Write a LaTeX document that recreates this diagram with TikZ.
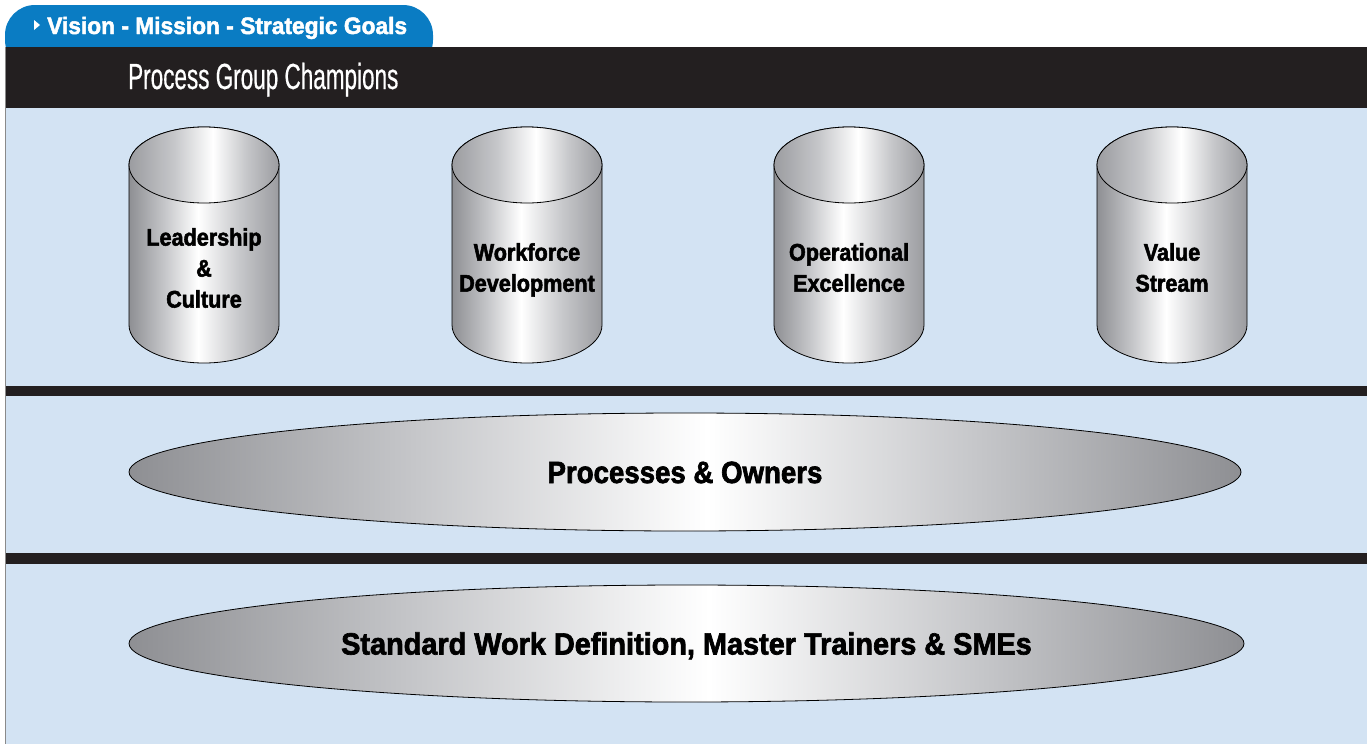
\documentclass[tikz,border=0pt]{standalone}
\usepackage{fontspec}
\usetikzlibrary{shapes.geometric}
\setmainfont{Liberation Sans}
\newfontfamily\tabfont{Liberation Sans}[FakeStretch=0.96, BoldFeatures={FakeBold=2}]
\newfontfamily\barfont{Liberation Sans}[FakeStretch=0.62, FakeBold=0.4]
\newfontfamily\heavyfont{Liberation Sans}[FakeStretch=0.90, BoldFeatures={FakeBold=2.2}]
\newfontfamily\wideheavyfont{Liberation Sans}[FakeStretch=0.94, BoldFeatures={FakeBold=2.2}]

\definecolor{tabblue}{HTML}{0A7CC3}
\definecolor{barblack}{HTML}{231F20}
\definecolor{panelblue}{HTML}{D3E3F3}
\definecolor{edgegray}{HTML}{8E8F93}
\definecolor{midgray}{HTML}{C6C7CA}
\definecolor{rimgray}{HTML}{9B9CA0}
\definecolor{framegray}{HTML}{8A8A8A}

% metallic gradients (the path box maps onto 25bp..75bp)
\pgfdeclarehorizontalshading{drum}{100bp}{color(0bp)=(edgegray); color(25bp)=(edgegray);
  color(37bp)=(midgray); color(48bp)=(white); color(62bp)=(midgray); color(75bp)=(rimgray); color(100bp)=(rimgray)}
\pgfdeclarehorizontalshading{drumtop}{100bp}{color(0bp)=(rimgray); color(25bp)=(rimgray);
  color(40bp)=(midgray); color(53bp)=(white); color(64bp)=(midgray); color(75bp)=(rimgray); color(100bp)=(rimgray)}
\pgfdeclarehorizontalshading{pill}{100bp}{color(0bp)=(edgegray); color(25bp)=(edgegray);
  color(38bp)=(midgray); color(51bp)=(white); color(63bp)=(midgray); color(75bp)=(edgegray); color(100bp)=(edgegray)}

\tikzset{
  drumbody/.style={shading=drum, draw=black, line width=0.8pt},
  drumlid/.style={shading=drumtop, draw=black, line width=0.8pt},
  pillbox/.style={ellipse, inner sep=0pt, minimum width=1112pt, minimum height=118pt,
    shading=pill, draw=black, line width=0.8pt,
    font=\heavyfont\bfseries\fontsize{30.7}{34}\selectfont, text height=22pt, text depth=0pt},
  pillarlabel/.style={anchor=north, inner sep=0pt, align=center,
    font=\heavyfont\bfseries\fontsize{24}{31}\selectfont},
  bandbar/.style={fill=barblack},
}

\begin{document}
\begin{tikzpicture}[x=1pt, y=-1pt]
  \useasboundingbox (0,0) rectangle (1367,744);
  \fill[white] (0,0) rectangle (1367,744);

  % blue title tab
  \fill[tabblue, rounded corners=30pt] (5,70) -- (5,5) -- (433,5) -- (433,70) -- cycle;
  \fill[white] (34,20) -- (40,25) -- (34,30) -- cycle;
  \node[anchor=base west, inner sep=0pt, text=white,
    font=\tabfont\bfseries\fontsize{23.7}{26}\selectfont] (tab) at (47,34)
    {Vision - Mission - Strategic Goals};

  % black heading band
  \fill[bandbar] (5,47) rectangle (1367,108);
  \node[anchor=base west, inner sep=0pt, text=white,
    font=\barfont\fontsize{36.3}{40}\selectfont] (champions) at (128,89)
    {Process Group Champions};

  % light panels and separators
  \fill[panelblue] (6,108) rectangle (1367,744);
  \fill[bandbar] (6,386) rectangle (1367,396);
  \fill[bandbar] (6,553) rectangle (1367,564);
  \draw[framegray, line width=1.2pt] (5.6,47) -- (5.6,744);

  % four pillars
  \foreach \cx/\nm/\ty/\txt in {204/lead/228/{Leadership\\\&\\Culture},
                                527/work/243/{Workforce\\Development},
                                849/oper/243/{Operational\\Excellence},
                                1172/value/243/{Value\\Stream}} {
    \path[drumbody] (\cx-75,165) -- (\cx-75,325)
      arc[start angle=180, end angle=0, x radius=75, y radius=38]
      -- (\cx+75,165)
      arc[start angle=0, end angle=-180, x radius=75, y radius=38] -- cycle;
    \path[drumlid] (\cx,165) ellipse[x radius=75, y radius=38];
    \node[pillarlabel] (\nm) at (\cx,\ty) {\txt};
  }

  % process layers
  \node[pillbox] (owners) at (685,472) {Processes \& Owners};
  \node[pillbox, minimum width=1115pt, minimum height=117pt,
    font=\wideheavyfont\bfseries\fontsize{30.7}{34}\selectfont] (standard) at (686.5,643.5)
    {Standard Work Definition, Master Trainers \& SMEs};
\end{tikzpicture}
\end{document}
